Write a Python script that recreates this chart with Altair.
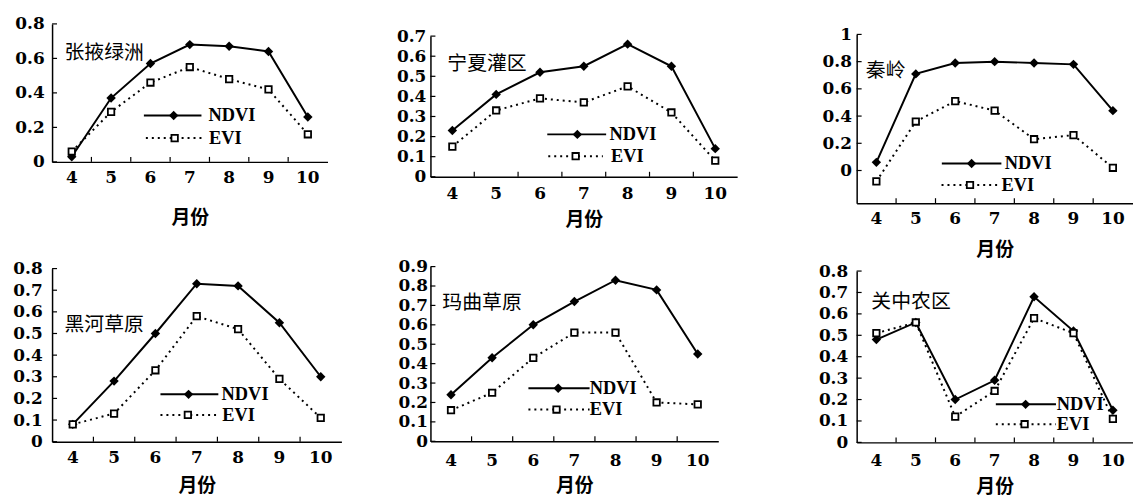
import altair as alt
import pandas as pd

months = [4, 5, 6, 7, 8, 9, 10]

zhangye_ndvi = [0.03, 0.37, 0.57, 0.68, 0.67, 0.64, 0.26]
zhangye_evi = [0.06, 0.29, 0.46, 0.55, 0.48, 0.42, 0.16]
ningxia_ndvi = [0.23, 0.41, 0.52, 0.55, 0.66, 0.55, 0.14]
ningxia_evi = [0.15, 0.33, 0.39, 0.37, 0.45, 0.32, 0.08]
qinling_ndvi = [0.06, 0.71, 0.79, 0.80, 0.79, 0.78, 0.44]
qinling_evi = [-0.08, 0.36, 0.51, 0.44, 0.23, 0.26, 0.02]
heihe_ndvi = [0.08, 0.28, 0.50, 0.73, 0.72, 0.55, 0.30]
heihe_evi = [0.08, 0.13, 0.33, 0.58, 0.52, 0.29, 0.11]
maqu_ndvi = [0.24, 0.43, 0.60, 0.72, 0.83, 0.78, 0.45]
maqu_evi = [0.16, 0.25, 0.43, 0.56, 0.56, 0.20, 0.19]
guanzhong_ndvi = [0.48, 0.56, 0.20, 0.29, 0.68, 0.52, 0.15]
guanzhong_evi = [0.51, 0.56, 0.12, 0.24, 0.58, 0.51, 0.11]

ticks_a = [0, 0.2, 0.4, 0.6, 0.8]
ticks_b = [0, 0.1, 0.2, 0.3, 0.4, 0.5, 0.6, 0.7]
ticks_c = [0, 0.2, 0.4, 0.6, 0.8, 1]
ticks_d = [0, 0.1, 0.2, 0.3, 0.4, 0.5, 0.6, 0.7, 0.8]
ticks_e = [0, 0.1, 0.2, 0.3, 0.4, 0.5, 0.6, 0.7, 0.8, 0.9]
ticks_f = [0, 0.1, 0.2, 0.3, 0.4, 0.5, 0.6, 0.7, 0.8]

series_names = ["NDVI", "EVI"]
x_title = "月份"

SERIF = "Liberation Serif"
DIGITS = "DejaVu Serif"
CJK = "Noto Sans CJK SC"


def panel(name, ndvi, evi, ydom, yticks, w, h, ylp, xlp, tp, leg, tpos):
    nd_df = pd.DataFrame({"month": months, "value": ndvi})
    ev_df = pd.DataFrame({"month": months, "value": evi})
    xt_df = pd.DataFrame({"month": months[1:]})
    yt_df = pd.DataFrame({"value": yticks})
    one = pd.DataFrame({"k": [0]})

    xscale = alt.Scale(type="band", domain=months, paddingInner=0, paddingOuter=0)
    xaxis = alt.Axis(title=x_title, labelAngle=0, ticks=False, labelPadding=xlp,
                     titlePadding=tp, grid=False)
    yscale = alt.Scale(domain=ydom, nice=False, zero=False)
    yaxis = alt.Axis(values=yticks, format="~g", ticks=False, labelPadding=ylp,
                     grid=False, title=None)

    def X(**kw):
        return alt.X("month:O", scale=xscale, axis=xaxis, **kw)

    def Y():
        return alt.Y("value:Q", scale=yscale, axis=yaxis)

    nd_line = alt.Chart(nd_df).mark_line(color="black", strokeWidth=2).encode(x=X(), y=Y())
    nd_pts = alt.Chart(nd_df).mark_point(shape="diamond", filled=True, color="black",
                                         size=90, opacity=1).encode(x=X(), y=Y())
    ev_line = alt.Chart(ev_df).mark_line(color="black", strokeWidth=2,
                                         strokeDash=[2, 4]).encode(x=X(), y=Y())
    ev_pts = alt.Chart(ev_df).mark_point(shape="square", filled=False, fill="white",
                                         stroke="black", strokeWidth=1.8, size=42,
                                         opacity=1).encode(x=X(), y=Y())
    xt = alt.Chart(xt_df).mark_rule(color="black", strokeWidth=1.2).encode(
        x=X(bandPosition=0), y=alt.value(h), y2=alt.value(h - 5))
    yt = alt.Chart(yt_df).mark_rule(color="black", strokeWidth=1.2).encode(
        y=Y(), x=alt.value(0), x2=alt.value(5))

    (n_x1, n_x2, n_y, n_px, n_tx), (e_x1, e_x2, e_y, e_px, e_tx) = leg
    l1 = alt.Chart(one).mark_rule(color="black", strokeWidth=2).encode(
        x=alt.value(n_x1), x2=alt.value(n_x2), y=alt.value(n_y))
    l1p = alt.Chart(one).mark_point(shape="diamond", filled=True, color="black",
                                    size=90, opacity=1).encode(
        x=alt.value(n_px), y=alt.value(n_y))
    l1t = alt.Chart(one).mark_text(align="left", baseline="middle", font=SERIF,
                                   fontSize=18.5, fontWeight="bold", color="black").encode(
        x=alt.value(n_tx), y=alt.value(n_y), text=alt.value(series_names[0]))
    l2 = alt.Chart(one).mark_rule(color="black", strokeWidth=2, strokeDash=[2, 4]).encode(
        x=alt.value(e_x1), x2=alt.value(e_x2), y=alt.value(e_y))
    l2p = alt.Chart(one).mark_point(shape="square", filled=False, fill="white",
                                    stroke="black", strokeWidth=1.8, size=42,
                                    opacity=1).encode(
        x=alt.value(e_px), y=alt.value(e_y))
    l2t = alt.Chart(one).mark_text(align="left", baseline="middle", font=SERIF,
                                   fontSize=18.5, fontWeight="bold", color="black").encode(
        x=alt.value(e_tx), y=alt.value(e_y), text=alt.value(series_names[1]))
    ttl = alt.Chart(one).mark_text(align="left", baseline="middle", font=CJK,
                                   fontSize=20, color="black").encode(
        x=alt.value(tpos[0]), y=alt.value(tpos[1]), text=alt.value(name))

    return alt.layer(nd_line, nd_pts, ev_line, ev_pts, xt, yt,
                     l1, l1p, l1t, l2, l2p, l2t, ttl).properties(width=w, height=h)


def spacer():
    one = pd.DataFrame({"k": [0]})
    return alt.Chart(one).mark_rule(opacity=0).encode(
        x=alt.value(0), x2=alt.value(1), y=alt.value(0)).properties(width=1, height=1)


A = panel("张掖绿洲", zhangye_ndvi, zhangye_evi, [0, 0.8], ticks_a, 277.5, 139, 8, 7.8, 23.3,
          [(92.5, 150.5, 92.3, 122.5, 157.5), (94.5, 152.5, 115, 123.5, 158)], (12.5, 29))
B = panel("宁夏灌区", ningxia_ndvi, ningxia_evi, [0, 0.7], ticks_b, 309, 141.7, 4.7, 9.4, 8.7,
          [(117.7, 177, 99, 148, 180.3), (118.7, 173.7, 121, 146.3, 182)], (17, 28.3))
C = panel("秦岭", qinling_ndvi, qinling_evi, [-0.24, 1], ticks_c, 278, 170, 5.3, 7.8, 13.7,
          [(85.8, 145.8, 130, 115.8, 149.2), (85.5, 142.5, 151.7, 114.2, 145.8)], (9.2, 36.7))
D = panel("黑河草原", heihe_ndvi, heihe_evi, [0, 0.8], ticks_d, 291.5, 174.4, 10, 8.4, 11.2,
          [(109.2, 167.5, 126.7, 137.5, 170.8), (109.2, 167.5, 147.4, 136.8, 171.5)], (12.5, 56.7))
E = panel("玛曲草原", maqu_ndvi, maqu_evi, [0, 0.9], ticks_e, 290, 176, 3, 10.9, 8.7,
          [(98.7, 160.3, 122.6, 128.7, 160.5), (98.7, 160.3, 144, 127, 160.5)], (12, 36.6))
F = panel("关中农区", guanzhong_ndvi, guanzhong_evi, [0, 0.8], ticks_f, 278, 172.6, 9, 10.3, 8.7,
          [(140.2, 200.8, 134.3, 170.2, 201.5), (140.2, 200.8, 154.3, 169.2, 201.5)], (14.8, 31))

col1 = alt.vconcat(A, D, spacing=31.5)
col2 = alt.vconcat(alt.vconcat(spacer(), B, spacing=2.3), E, spacing=27.5)
col3 = alt.vconcat(alt.vconcat(spacer(), C, spacing=0.6), F, spacing=2)

chart = alt.hconcat(col1, alt.hconcat(col2, col3, spacing=81.4), spacing=54.2).properties(
    padding={"left": 4.4, "top": 5.2, "right": 0, "bottom": 0}
).configure_axis(
    labelFont=DIGITS, labelFontSize=17, labelFontWeight="bold", labelColor="black",
    titleFont=CJK, titleFontSize=19, titleFontWeight="bold", titleColor="black",
    domainColor="black", domainWidth=1.5
).configure_view(stroke=None)

chart.save("out.html", embed_options={"renderer": "svg", "actions": False})
